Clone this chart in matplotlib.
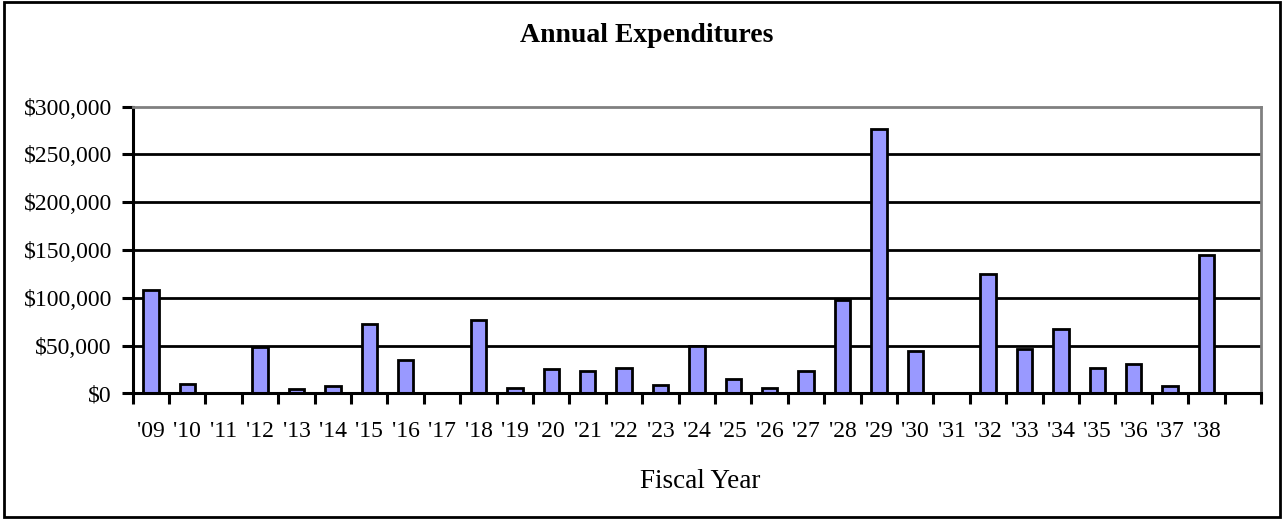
"""
Annual Expenditures bar chart
"""

import matplotlib
matplotlib.use('Agg')
import matplotlib.pyplot as plt
from matplotlib.patches import Rectangle
from matplotlib.ticker import FuncFormatter, MultipleLocator

plt.rcParams['font.family'] = ['Liberation Serif', 'DejaVu Serif']

# fiscal years ('09 - '38) plus an empty trailing slot
years = ["'09", "'10", "'11", "'12", "'13", "'14", "'15", "'16", "'17", "'18",
         "'19", "'20", "'21", "'22", "'23", "'24", "'25", "'26", "'27", "'28",
         "'29", "'30", "'31", "'32", "'33", "'34", "'35", "'36", "'37", "'38", ""]
expenditures = [108000, 10000, 0, 48000, 5000, 8000, 73000, 35000, 0, 77000,
                6000, 25000, 23000, 27000, 9000, 50000, 15000, 6000, 23000, 98000,
                277000, 44000, 0, 125000, 46000, 67000, 27000, 31000, 8000, 145000, 0]

fig = plt.figure(figsize=(12.83, 5.19), dpi=100)
ax = fig.add_axes([0.1034, 0.2422, 0.8795, 0.5522])

x = list(range(len(years)))
ax.bar(x, expenditures, width=0.42, color='#9999FF', edgecolor='black',
       linewidth=2, zorder=3)

# 坐标轴范围
ax.set_xlim(-0.5, len(years) - 0.5)
ax.set_ylim(0, 300000)

# 网格线
ax.yaxis.set_major_locator(MultipleLocator(50000))
ax.yaxis.set_major_formatter(FuncFormatter(lambda v, p: f'${v:,.0f}'))
for v in range(50000, 300000, 50000):
    ax.axhline(v, color='black', linewidth=2, zorder=1)

# 边框
ax.spines['left'].set_color('black')
ax.spines['left'].set_linewidth(2.2)
ax.spines['bottom'].set_color('black')
ax.spines['bottom'].set_linewidth(2.2)
ax.spines['top'].set_color('#808080')
ax.spines['top'].set_linewidth(2)
ax.spines['right'].set_color('#808080')
ax.spines['right'].set_linewidth(2)
for s in ax.spines.values():
    s.set_zorder(4)

# x 轴: 标签在中间，刻度线在分隔处
ax.set_xticks(x)
ax.set_xticklabels(years, fontsize=17)
ax.set_xticks([i - 0.5 for i in range(len(years) + 1)], minor=True)
ax.tick_params(axis='x', which='major', length=0, pad=20)
ax.tick_params(axis='x', which='minor', length=8, width=2.2, color='black')
ax.tick_params(axis='y', which='major', length=8, width=2.2, color='black',
               labelsize=17, pad=7)

# 标题和轴标签
fig.text(0.504, 0.919, 'Annual Expenditures', ha='center', va='baseline',
         fontsize=20, fontweight='bold')
fig.text(0.546, 0.0597, 'Fiscal Year', ha='center', va='baseline', fontsize=19.5)

# 外框
fig.patches.append(Rectangle((0.003, 0.004), 0.9945, 0.993, transform=fig.transFigure,
                             fill=False, edgecolor='black', linewidth=2))

plt.savefig('out.png', dpi=100)
